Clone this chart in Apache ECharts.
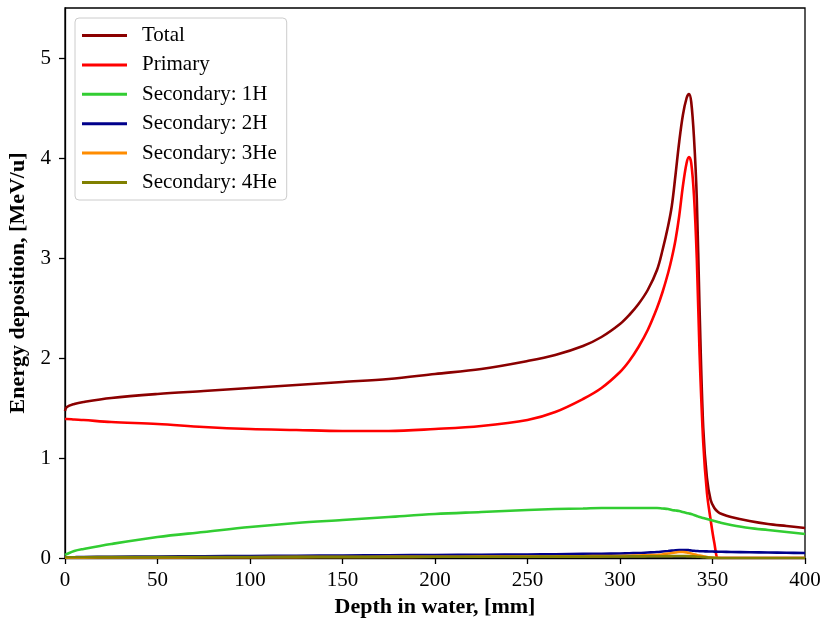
<!DOCTYPE html>
<html>
<head>
<meta charset="utf-8">
<script src="https://cdn.jsdelivr.net/npm/echarts@6/dist/echarts.min.js"></script>
<style>html,body{margin:0;padding:0;background:#fff}#c{width:823px;height:620px}</style>
</head>
<body>
<div id="c"></div>
<script>
const depth = [0, 1, 5, 10, 25, 50, 75, 100, 125, 150, 175, 200, 225, 250, 265, 280, 290, 300, 305, 310, 315, 320, 323, 326, 328, 330, 332, 334, 336, 337.3, 338.5, 340, 341.5, 343, 345, 347, 349, 351, 353, 355, 360, 370, 380, 390, 400];
const total = [1.47, 1.51, 1.54, 1.56, 1.60, 1.64, 1.67, 1.70, 1.73, 1.76, 1.79, 1.84, 1.89, 1.97, 2.03, 2.12, 2.21, 2.34, 2.43, 2.54, 2.68, 2.88, 3.08, 3.32, 3.52, 3.83, 4.16, 4.43, 4.60, 4.64, 4.56, 4.20, 3.60, 2.50, 1.30, 0.80, 0.58, 0.50, 0.46, 0.44, 0.41, 0.37, 0.34, 0.32, 0.30];
const primary = [1.39, 1.39, 1.385, 1.38, 1.36, 1.34, 1.31, 1.29, 1.28, 1.27, 1.27, 1.29, 1.32, 1.38, 1.46, 1.59, 1.70, 1.86, 1.97, 2.11, 2.28, 2.50, 2.66, 2.85, 3.00, 3.18, 3.42, 3.72, 3.95, 4.01, 3.95, 3.62, 3.00, 2.05, 1.15, 0.65, 0.38, 0.15, 0, 0, 0, 0, 0, 0, 0];
const h1 = [0.03, 0.04, 0.07, 0.09, 0.14, 0.21, 0.26, 0.31, 0.35, 0.38, 0.41, 0.44, 0.46, 0.48, 0.49, 0.495, 0.50, 0.50, 0.50, 0.50, 0.50, 0.50, 0.495, 0.49, 0.48, 0.475, 0.47, 0.46, 0.45, 0.445, 0.44, 0.43, 0.42, 0.41, 0.40, 0.39, 0.38, 0.37, 0.36, 0.35, 0.33, 0.30, 0.28, 0.26, 0.24];
const h2 = [0.005, 0.006, 0.008, 0.01, 0.012, 0.015, 0.018, 0.02, 0.022, 0.025, 0.028, 0.03, 0.032, 0.035, 0.038, 0.041, 0.043, 0.045, 0.048, 0.05, 0.055, 0.06, 0.065, 0.07, 0.074, 0.077, 0.079, 0.08, 0.08, 0.078, 0.075, 0.072, 0.07, 0.068, 0.067, 0.066, 0.065, 0.064, 0.063, 0.062, 0.06, 0.057, 0.055, 0.052, 0.05];
const he3 = [0.003, 0.003, 0.003, 0.004, 0.005, 0.006, 0.007, 0.008, 0.009, 0.01, 0.011, 0.012, 0.014, 0.015, 0.016, 0.018, 0.019, 0.02, 0.023, 0.025, 0.028, 0.03, 0.036, 0.045, 0.05, 0.055, 0.06, 0.06, 0.056, 0.05, 0.045, 0.038, 0.03, 0.024, 0.016, 0.01, 0.006, 0.003, 0.001, 0, 0, 0, 0, 0, 0];
const he4 = [0.008, 0.008, 0.008, 0.008, 0.009, 0.009, 0.01, 0.01, 0.011, 0.011, 0.012, 0.012, 0.013, 0.013, 0.014, 0.014, 0.015, 0.015, 0.016, 0.016, 0.017, 0.018, 0.018, 0.019, 0.019, 0.02, 0.02, 0.02, 0.019, 0.018, 0.017, 0.016, 0.014, 0.012, 0.009, 0.006, 0.003, 0.001, 0, 0, 0, 0, 0, 0, 0];
const names = ['Total', 'Primary', 'Secondary: 1H', 'Secondary: 2H', 'Secondary: 3He', 'Secondary: 4He'];
const colors = ['#8b0000', '#ff0000', '#32cd32', '#00008b', '#ff8c00', '#808000'];
const values = [total, primary, h1, h2, he3, he4];
const yTicks = [0, 1, 2, 3, 4, 5];

const FONT = 'Liberation Serif';
const chart = echarts.init(document.getElementById('c'), null, {renderer: 'canvas'});
chart.setOption({
  animation: false,
  backgroundColor: '#fff',
  color: colors,
  grid: {left: 65, right: 18, top: 8, bottom: 62, outerBoundsMode: 'none', containLabel: false,
         show: true, borderColor: '#000', borderWidth: 1.3, backgroundColor: 'transparent'},
  legend: {
    orient: 'vertical', left: 75, top: 18,
    data: names,
    icon: 'rect', itemWidth: 45, itemHeight: 3, itemGap: 8.4,
    padding: [7, 10, 7, 7],
    borderColor: '#cccccc', borderWidth: 1, borderRadius: 4,
    backgroundColor: '#fff',
    textStyle: {fontFamily: FONT, fontSize: 21, color: '#000', lineHeight: 21, padding: [0, 0, 0, 10]}
  },
  xAxis: {
    type: 'value', min: 0, max: 400, interval: 50,
    name: 'Depth in water, [mm]', nameLocation: 'middle', nameGap: 38,
    nameTextStyle: {fontFamily: FONT, fontSize: 22, fontWeight: 'bold', color: '#000'},
    axisLine: {show: true, lineStyle: {color: '#000', width: 1.3}},
    axisTick: {show: true, length: 6, lineStyle: {color: '#000', width: 1.3}},
    axisLabel: {fontFamily: FONT, fontSize: 21, color: '#000', margin: 12},
    splitLine: {show: false}
  },
  yAxis: {
    type: 'value', min: 0, max: 5.5, interval: 1,
    name: 'Energy deposition, [MeV/u]', nameLocation: 'middle', nameGap: 32,
    nameTextStyle: {fontFamily: FONT, fontSize: 22, fontWeight: 'bold', color: '#000'},
    axisLine: {show: true, lineStyle: {color: '#000', width: 1.3}},
    axisTick: {show: true, length: 6, lineStyle: {color: '#000', width: 1.3}},
    axisLabel: {fontFamily: FONT, fontSize: 21, color: '#000', margin: 14, showMaxLabel: false,
      formatter: v => (yTicks.indexOf(v) >= 0 ? String(v) : '')},
    splitLine: {show: false}
  },
  series: values.map((v, i) => ({
    name: names[i], type: 'line', showSymbol: false, smooth: 0.35,
    lineStyle: {width: 2.6, color: colors[i]}, itemStyle: {color: colors[i]},
    data: depth.map((d, j) => [d, v[j]])
  }))
});
</script>
</body>
</html>
